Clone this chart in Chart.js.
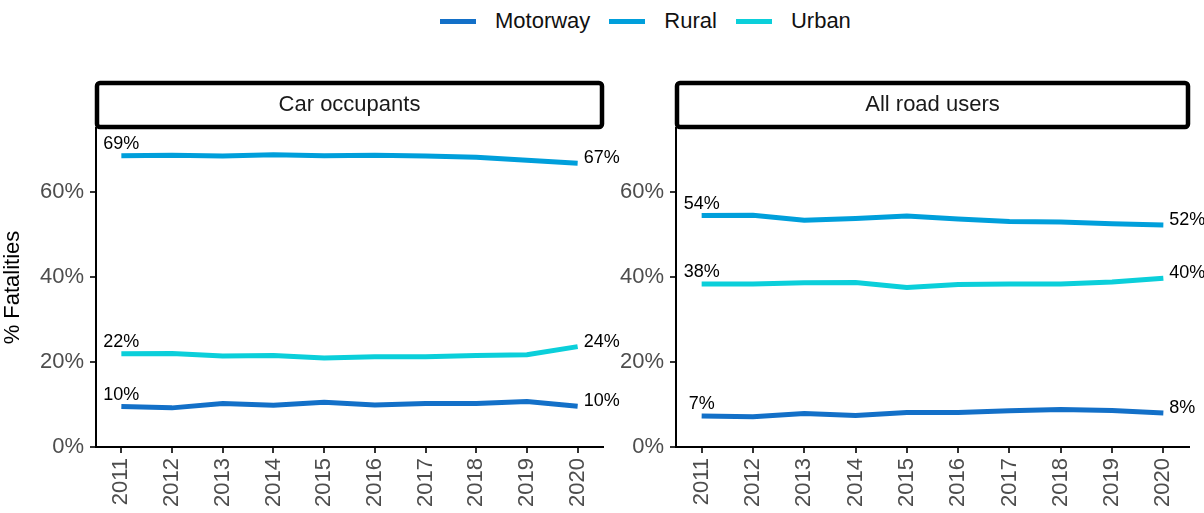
<!DOCTYPE html>
<html>
<head>
<meta charset="utf-8">
<script src="https://cdn.jsdelivr.net/npm/chart.js@4/dist/chart.umd.min.js"></script>
<style>
    body { margin: 0; background: #fff; font-family: 'Liberation Sans', Arial, sans-serif; }
    #wrap { position: relative; width: 1204px; height: 513px; overflow: hidden; }
    .legend { position: absolute; top: 8px; left: 440px; display: flex; align-items: center; font-size: 22px; color: #111; }
    .legend-item { display: flex; align-items: center; margin-right: 19px; }
    .legend-swatch { width: 36px; height: 5px; margin-right: 19px; }
    .panel { position: absolute; top: 40px; height: 473px; }
</style>
</head>
<body>
<div id="wrap">
    <div class="legend" id="legend"></div>
    <div class="panel" style="left:0; width:640px;"><canvas id="chart-car"></canvas></div>
    <div class="panel" style="left:610px; width:594px;"><canvas id="chart-all"></canvas></div>
</div>
<script>
const years = ['2011', '2012', '2013', '2014', '2015', '2016', '2017', '2018', '2019', '2020'];
const seriesNames = ['Motorway', 'Rural', 'Urban'];
const seriesColors = ['#1370C8', '#009FDB', '#0BCFDA'];
const yTickValues = [0, 20, 40, 60];

// Car occupants
const carMotorway = [9.5, 9.2, 10.2, 9.8, 10.5, 9.9, 10.2, 10.2, 10.7, 9.6];
const carRural = [68.5, 68.6, 68.4, 68.7, 68.5, 68.6, 68.4, 68.1, 67.4, 66.7];
const carUrban = [21.9, 22.0, 21.4, 21.5, 20.9, 21.2, 21.2, 21.5, 21.7, 23.6];

// All road users
const allMotorway = [7.3, 7.1, 7.9, 7.4, 8.1, 8.1, 8.5, 8.8, 8.6, 8.0];
const allRural = [54.4, 54.5, 53.3, 53.7, 54.3, 53.6, 53.0, 52.9, 52.5, 52.2];
const allUrban = [38.3, 38.3, 38.6, 38.7, 37.5, 38.2, 38.3, 38.3, 38.8, 39.7];

const FONT = "'Liberation Sans', Arial, sans-serif";

document.getElementById('legend').innerHTML = seriesNames.map((name, i) => `
    <div class="legend-item">
        <span class="legend-swatch" style="background:${seriesColors[i]}"></span>
        <span>${name}</span>
    </div>
`).join('');

// strip header above the plot + first/last value labels
const facetPlugin = {
    id: 'facet',
    afterDatasetsDraw(chart, args, opts) {
        const ctx = chart.ctx;
        const area = chart.chartArea;
        ctx.save();

        // value labels
        ctx.font = `18px ${FONT}`;
        ctx.fillStyle = '#000';
        chart.data.datasets.forEach((ds, i) => {
            const pts = chart.getDatasetMeta(i).data;
            const first = pts[0];
            const last = pts[pts.length - 1];
            ctx.textAlign = 'center';
            ctx.textBaseline = 'bottom';
            ctx.fillText(Math.round(ds.data[0]) + '%', first.x, first.y - 3);
            ctx.textAlign = 'left';
            ctx.textBaseline = 'middle';
            ctx.fillText(Math.round(ds.data[ds.data.length - 1]) + '%', last.x + 6, last.y - 5);
        });

        // strip
        const top = area.top - 46;
        ctx.lineWidth = 4.5;
        ctx.strokeStyle = '#000';
        ctx.fillStyle = '#fff';
        ctx.beginPath();
        ctx.roundRect(area.left + 1, top + 1, area.right - area.left - 2, 44, 3);
        ctx.fill();
        ctx.stroke();
        ctx.fillStyle = '#1a1a1a';
        ctx.font = `22px ${FONT}`;
        ctx.textAlign = 'center';
        ctx.textBaseline = 'middle';
        ctx.fillText(opts.title, (area.left + area.right) / 2, top + 23);
        ctx.restore();
    }
};

function makeChart(id, title, motorway, rural, urban, yWidth, padRight, showTitle) {
    const values = [motorway, rural, urban];
    return new Chart(document.getElementById(id), {
        type: 'line',
        data: {
            labels: years,
            datasets: seriesNames.map((name, i) => ({
                label: name,
                data: values[i],
                borderColor: seriesColors[i],
                backgroundColor: seriesColors[i],
                borderWidth: 5,
                pointRadius: 0,
                tension: 0,
                clip: false
            }))
        },
        options: {
            responsive: true,
            maintainAspectRatio: false,
            animation: false,
            layout: { padding: { top: 88, right: padRight, left: 0, bottom: 0 } },
            plugins: {
                legend: { display: false },
                tooltip: { enabled: false },
                facet: { title: title }
            },
            scales: {
                x: {
                    offset: true,
                    grid: { display: true, drawOnChartArea: false, color: '#333', lineWidth: 2, tickLength: 6 },
                    border: { color: '#000', width: 2 },
                    ticks: {
                        color: '#4D4D4D',
                        font: { family: FONT, size: 22 },
                        minRotation: 90,
                        maxRotation: 90,
                        padding: 5,
                        autoSkip: false
                    },
                    afterFit(scale) { scale.height = 66; }
                },
                y: {
                    min: 0,
                    max: 75,
                    grid: { display: true, drawOnChartArea: false, color: '#333', lineWidth: 2, tickLength: 6 },
                    border: { color: '#000', width: 2 },
                    afterBuildTicks(scale) { scale.ticks = yTickValues.map(v => ({ value: v })); },
                    ticks: {
                        color: '#4D4D4D',
                        font: { family: FONT, size: 22 },
                        padding: 6,
                        callback: (val) => val + '%'
                    },
                    title: {
                        display: showTitle,
                        text: '% Fatalities',
                        color: '#000',
                        font: { family: FONT, size: 22 },
                        padding: { top: 0, bottom: 2 }
                    },
                    afterFit(scale) { scale.width = yWidth; }
                }
            }
        },
        plugins: [facetPlugin]
    });
}

makeChart('chart-car', 'Car occupants', carMotorway, carRural, carUrban, 96, 37, true);
makeChart('chart-all', 'All road users', allMotorway, allRural, allUrban, 66, 15, false);
</script>
</body>
</html>
